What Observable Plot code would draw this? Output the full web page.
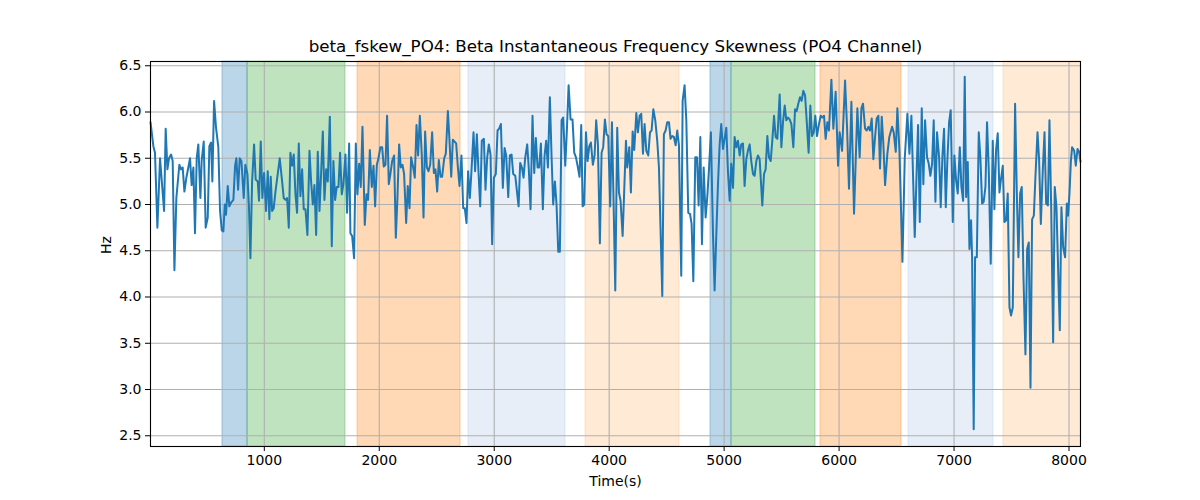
<!DOCTYPE html>
<html>
<head>
<meta charset="utf-8">
<script src="https://cdn.jsdelivr.net/npm/d3@7"></script>
<script src="https://cdn.jsdelivr.net/npm/@observablehq/plot@0.6"></script>
<style>
  html, body { margin: 0; padding: 0; background: white; }
  #chart { width: 1200px; height: 500px; }
</style>
</head>
<body>
<div id="chart"></div>
<script>
const titleText = "beta_fskew_PO4: Beta Instantaneous Frequency Skewness (PO4 Channel)";
const xLabel = "Time(s)";
const yLabel = "Hz";

const xTicks = [1000, 2000, 3000, 4000, 5000, 6000, 7000, 8000];
const yTicks = [2.5, 3.0, 3.5, 4.0, 4.5, 5.0, 5.5, 6.0, 6.5];

const bandStarts = [636, 854, 1811, 2776, 3794, 4881, 5064, 5838, 6604, 7430];
const bandEnds   = [854, 1706, 2707, 3620, 4612, 5064, 5795, 6543, 7343, 8100];
const bandColors = ["#1f77b4", "#2ca02c", "#ff7f0e", "#aec7e8", "#ffbb78",
                    "#1f77b4", "#2ca02c", "#ff7f0e", "#aec7e8", "#ffbb78"];

const times = [
  10, 35, 49, 70, 93, 128, 142, 157, 171, 189,
  203, 218, 235, 261, 276, 290, 305, 322, 339, 354,
  368, 383, 397, 412, 426, 444, 455, 473, 490, 508,
  522, 537, 548, 563, 580, 600, 615, 630, 644, 656,
  667, 682, 696, 711, 731, 746, 757, 772, 786, 801,
  821, 835, 853, 867, 879, 894, 911, 925, 943, 954,
  969, 983, 998, 1015, 1030, 1044, 1056, 1068, 1082, 1097,
  1117, 1134, 1155, 1169, 1184, 1198, 1213, 1227, 1242, 1256,
  1271, 1285, 1300, 1314, 1329, 1343, 1358, 1375, 1393, 1407,
  1422, 1436, 1451, 1465, 1480, 1494, 1509, 1523, 1538, 1552,
  1570, 1587, 1601, 1616, 1630, 1645, 1659, 1674, 1688, 1706,
  1720, 1738, 1749, 1764, 1781, 1796, 1810, 1825, 1839, 1854,
  1874, 1889, 1903, 1918, 1935, 1950, 1964, 1979, 1993, 2010,
  2025, 2039, 2054, 2068, 2083, 2097, 2112, 2129, 2144, 2158,
  2173, 2187, 2202, 2216, 2234, 2248, 2263, 2277, 2295, 2309,
  2324, 2338, 2353, 2370, 2385, 2399, 2414, 2428, 2443, 2460,
  2475, 2489, 2504, 2518, 2533, 2547, 2565, 2579, 2597, 2611,
  2626, 2640, 2655, 2669, 2684, 2698, 2715, 2730, 2744, 2759,
  2773, 2788, 2802, 2820, 2834, 2849, 2863, 2878, 2892, 2910,
  2924, 2939, 2953, 2968, 2982, 2997, 3014, 3029, 3043, 3058,
  3075, 3090, 3104, 3122, 3136, 3151, 3165, 3183, 3212, 3226,
  3241, 3255, 3270, 3287, 3301, 3316, 3333, 3348, 3362, 3377,
  3391, 3406, 3423, 3438, 3452, 3467, 3484, 3499, 3513, 3528,
  3542, 3557, 3571, 3586, 3600, 3618, 3632, 3647, 3664, 3681,
  3696, 3711, 3728, 3742, 3757, 3769, 3783, 3798, 3812, 3827,
  3841, 3858, 3873, 3887, 3902, 3919, 3934, 3948, 3963, 3977,
  3992, 4009, 4024, 4038, 4053, 4070, 4085, 4099, 4117, 4146,
  4157, 4175, 4189, 4204, 4218, 4236, 4250, 4265, 4279, 4294,
  4308, 4323, 4340, 4355, 4369, 4384, 4401, 4418, 4433, 4462,
  4476, 4491, 4505, 4520, 4534, 4549, 4563, 4578, 4592, 4607,
  4627, 4639, 4656, 4671, 4688, 4703, 4717, 4732, 4749, 4764,
  4778, 4793, 4807, 4822, 4839, 4854, 4868, 4885, 4903, 4917,
  4932, 4946, 4961, 4975, 4990, 5004, 5019, 5033, 5048, 5062,
  5077, 5091, 5106, 5120, 5135, 5149, 5164, 5178, 5193, 5207,
  5222, 5236, 5251, 5265, 5280, 5294, 5309, 5332, 5347, 5361,
  5376, 5390, 5405, 5419, 5434, 5448, 5463, 5483, 5498, 5512,
  5527, 5541, 5556, 5570, 5585, 5602, 5617, 5631, 5645, 5660,
  5674, 5689, 5704, 5718, 5735, 5750, 5764, 5779, 5793, 5808,
  5822, 5840, 5854, 5869, 5883, 5898, 5912, 5933, 5950, 5970,
  5991, 6005, 6026, 6052, 6069, 6086, 6107, 6130, 6159, 6179,
  6194, 6208, 6226, 6240, 6255, 6269, 6284, 6298, 6313, 6327,
  6342, 6356, 6371, 6385, 6400, 6420, 6437, 6461, 6475, 6493,
  6507, 6525, 6551, 6571, 6594, 6612, 6629, 6658, 6675, 6687,
  6702, 6719, 6733, 6748, 6765, 6780, 6794, 6809, 6823, 6838,
  6852, 6870, 6884, 6899, 6913, 6928, 6942, 6957, 6971, 6989,
  7003, 7018, 7032, 7050, 7064, 7079, 7093, 7105, 7119, 7134,
  7148, 7157, 7171, 7183, 7198, 7215, 7229, 7244, 7258, 7273,
  7287, 7302, 7319, 7337, 7351, 7366, 7380, 7395, 7409, 7424,
  7438, 7453, 7467, 7482, 7496, 7511, 7531, 7546, 7560, 7575,
  7589, 7604, 7621, 7636, 7650, 7665, 7679, 7694, 7708, 7726,
  7740, 7755, 7772, 7787, 7801, 7816, 7830, 7845, 7862, 7876,
  7891, 7905, 7920, 7934, 7949, 7966, 7981, 7992, 8004, 8016,
  8027, 8045, 8059, 8074, 8088, 8100
];

const values = [
  5.89, 5.63, 5.56, 4.75, 5.50, 4.93, 5.82, 5.38, 5.50, 5.54,
  5.47, 4.29, 5.07, 5.43, 5.38, 5.40, 5.14, 5.29, 5.40, 5.50,
  5.21, 5.40, 4.69, 5.50, 5.65, 5.07, 5.47, 5.68, 4.75, 4.86,
  5.63, 5.67, 5.25, 6.12, 5.83, 5.62, 4.93, 4.72, 4.71, 5.00,
  4.89, 5.20, 4.98, 5.02, 5.05, 5.42, 5.50, 5.16, 5.50, 5.47,
  5.07, 5.43, 5.33, 4.96, 4.42, 5.25, 5.65, 5.27, 5.25, 5.04,
  5.68, 5.07, 5.34, 4.93, 5.36, 4.84, 5.30, 4.93, 4.96, 5.14,
  5.33, 5.50, 5.25, 5.07, 5.05, 5.07, 4.75, 5.56, 5.42, 5.54,
  5.11, 4.91, 5.66, 5.09, 5.38, 4.95, 4.95, 4.67, 5.58, 5.25,
  5.00, 5.21, 4.67, 5.57, 4.93, 5.33, 5.79, 5.05, 5.38, 5.25,
  5.95, 4.55, 5.47, 5.05, 5.19, 5.19, 5.56, 5.11, 5.22, 5.54,
  4.91, 5.66, 4.69, 4.66, 4.42, 5.66, 5.11, 5.44, 5.19, 5.84,
  4.78, 5.11, 5.05, 5.59, 5.19, 5.42, 4.98, 5.43, 5.50, 5.62,
  5.62, 5.41, 5.43, 5.96, 5.22, 5.33, 5.47, 5.53, 4.64, 5.07,
  5.65, 5.40, 5.43, 5.33, 4.80, 5.20, 4.96, 5.51, 5.40, 5.29,
  5.86, 5.53, 5.96, 5.53, 4.86, 5.79, 5.40, 5.36, 5.43, 5.78,
  5.34, 5.38, 5.14, 5.48, 5.30, 5.30, 5.50, 5.55, 6.01, 5.69,
  5.30, 5.70, 5.68, 5.66, 5.40, 5.20, 5.53, 4.96, 4.96, 4.80,
  5.36, 5.07, 5.36, 5.78, 5.36, 5.76, 5.36, 4.98, 5.69, 5.71,
  5.16, 5.51, 5.65, 5.54, 4.57, 5.29, 5.33, 5.80, 5.82, 5.87,
  5.18, 5.61, 5.53, 5.08, 5.53, 5.54, 5.33, 5.31, 4.98, 5.45,
  5.40, 5.29, 5.51, 5.65, 5.38, 4.95, 5.96, 5.34, 5.72, 5.40,
  5.40, 5.66, 4.95, 5.53, 5.69, 5.40, 6.16, 5.51, 5.00, 5.25,
  5.00, 4.49, 4.49, 5.91, 5.94, 5.42, 5.80, 6.29, 5.92, 5.92,
  5.56, 5.51, 5.40, 5.30, 5.86, 4.98, 5.00, 5.78, 5.47, 5.63,
  5.67, 5.43, 5.53, 5.91, 5.65, 4.58, 5.56, 5.62, 5.92, 5.76,
  5.74, 4.98, 5.89, 5.04, 4.07, 5.83, 5.13, 5.04, 4.66, 5.69,
  5.40, 5.62, 5.13, 5.79, 5.59, 5.99, 5.78, 5.96, 5.98, 5.55,
  5.87, 5.58, 5.53, 5.78, 5.80, 6.03, 5.91, 5.69, 5.40, 4.01,
  5.76, 5.80, 5.89, 5.89, 5.71, 5.74, 5.73, 5.64, 5.80, 5.64,
  4.23, 6.12, 6.29, 5.91, 4.91, 4.90, 4.79, 4.17, 5.51, 5.51,
  4.99, 5.73, 4.57, 5.40, 4.86, 5.09, 5.38, 5.78, 4.68, 4.07,
  4.68, 5.20, 5.65, 5.87, 5.60, 5.71, 5.83, 5.36, 5.04, 5.44,
  5.18, 5.73, 5.62, 5.69, 5.53, 5.65, 5.66, 5.20, 5.49, 5.58,
  5.65, 5.47, 5.33, 5.31, 5.47, 5.53, 5.49, 4.99, 5.33, 5.38,
  5.74, 5.51, 5.47, 5.69, 5.96, 5.73, 5.71, 6.19, 5.62, 5.89,
  6.07, 5.91, 5.94, 5.92, 5.87, 5.62, 6.03, 6.01, 6.09, 6.16,
  6.12, 6.23, 6.18, 5.91, 5.56, 6.07, 5.74, 5.78, 5.96, 5.74,
  5.85, 5.96, 5.94, 5.96, 5.71, 5.89, 5.80, 6.35, 5.82, 6.22,
  5.42, 5.78, 5.58, 6.34, 5.84, 5.17, 6.11, 4.90, 6.04, 5.51,
  6.04, 6.09, 5.82, 5.80, 5.84, 5.80, 5.93, 5.49, 5.73, 5.93,
  5.96, 5.39, 5.95, 5.66, 5.21, 5.55, 5.73, 5.84, 5.78, 5.57,
  6.04, 5.58, 4.38, 5.49, 5.98, 5.55, 5.96, 4.65, 5.37, 5.86,
  4.81, 6.04, 5.22, 5.91, 5.51, 5.44, 5.31, 5.44, 5.91, 5.03,
  5.78, 5.51, 4.97, 5.53, 5.82, 4.97, 5.48, 5.89, 6.02, 4.81,
  5.53, 5.26, 5.12, 5.62, 5.19, 5.04, 6.38, 5.08, 5.46, 4.52,
  4.83, 4.43, 2.57, 4.43, 4.43, 5.78, 5.51, 5.01, 5.03, 5.19,
  5.89, 5.37, 4.36, 5.69, 4.95, 5.60, 5.77, 5.13, 5.28, 5.42,
  4.81, 4.83, 5.12, 3.89, 3.80, 3.89, 6.09, 5.12, 4.43, 5.12,
  5.19, 4.21, 3.38, 4.52, 4.59, 3.02, 4.84, 4.88, 5.30, 5.78,
  5.48, 4.79, 5.37, 5.78, 5.01, 4.99, 5.91, 4.97, 3.51, 5.19,
  4.97, 4.32, 3.64, 4.97, 4.54, 4.43, 5.01, 4.88, 5.12, 5.46,
  5.62, 5.58, 5.42, 5.60, 5.57, 5.46
];

const data = times.map((t, i) => ({t, v: values[i]}));
const bands = bandStarts.map((s, i) => ({start: s, end: bandEnds[i], color: bandColors[i]}));

const font = "'DejaVu Sans', sans-serif";

const chart = Plot.plot({
  width: 1200,
  height: 500,
  marginLeft: 150,
  marginRight: 120,
  marginTop: 61,
  marginBottom: 54,
  style: {fontFamily: font, fontSize: "14px", background: "white", color: "black", overflow: "visible"},
  x: {domain: [10, 8100], label: null},
  y: {domain: [2.384, 6.546], label: null},
  color: {type: "identity"},
  marks: [
    Plot.rect(bands, {x1: "start", x2: "end", fill: "color", fillOpacity: 0.3, stroke: "color", strokeOpacity: 0.35, strokeWidth: 1}),
    Plot.gridX(xTicks, {stroke: "#b0b0b0", strokeOpacity: 1, strokeWidth: 1.1}),
    Plot.gridY(yTicks, {stroke: "#b0b0b0", strokeOpacity: 1, strokeWidth: 1.1}),
    Plot.line(data, {x: "t", y: "v", stroke: "#1f77b4", strokeWidth: 2, strokeLinejoin: "round"}),
    Plot.frame({stroke: "black", strokeWidth: 1.1}),
    Plot.axisX(xTicks, {tickSize: 5, tickPadding: 4, tickFormat: d3.format("d"), label: null, fontSize: 14}),
    Plot.axisY(yTicks, {tickSize: 5, tickPadding: 4, tickFormat: d3.format(".1f"), label: null, fontSize: 14}),
    Plot.text([titleText], {text: d => d, frameAnchor: "top", lineAnchor: "middle", dy: -15, fontSize: 16.7}),
    Plot.text([xLabel], {text: d => d, frameAnchor: "bottom", lineAnchor: "middle", dy: 35, fontSize: 14}),
    Plot.text([yLabel], {text: d => d, frameAnchor: "left", lineAnchor: "middle", dx: -44, rotate: -90, fontSize: 14})
  ]
});

document.getElementById("chart").appendChild(chart);
</script>
</body>
</html>
